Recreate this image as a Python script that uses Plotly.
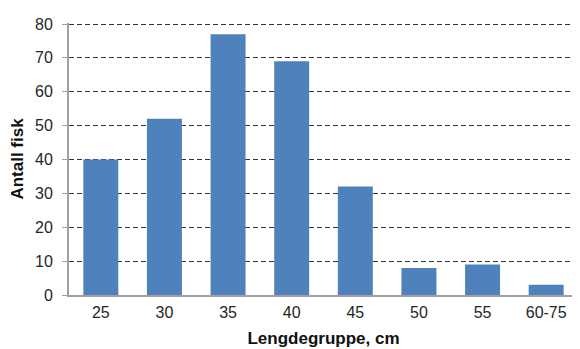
import plotly.graph_objects as go

categories = ["25", "30", "35", "40", "45", "50", "55", "60-75"]
values = [40, 52, 77, 69, 32, 8, 9, 3]
y_ticks = [0, 10, 20, 30, 40, 50, 60, 70, 80]

fig = go.Figure()
fig.add_trace(go.Bar(
    x=categories, y=values,
    marker=dict(color="#4F81BD", line=dict(width=0)),
    width=0.55,
))

font = "Liberation Sans, Arial, sans-serif"
fig.update_layout(
    width=580, height=349,
    margin=dict(l=61, r=10, t=15, b=62, autoexpand=False),
    paper_bgcolor="white", plot_bgcolor="white",
    showlegend=False,
    font=dict(family=font, size=16, color="#262626"),
    xaxis=dict(
        type="category", automargin=False,
        showline=True, linecolor="#A0A0A0", linewidth=2,
        ticks="", showgrid=False, ticklabelstandoff=2,
        tickfont=dict(size=16, color="#262626"),
        title=dict(text="<b>Lengdegruppe, cm</b>", font=dict(size=17, color="#111111"), standoff=12),
    ),
    yaxis=dict(
        range=[0, 80.3], tickvals=y_ticks, automargin=False,
        showline=True, linecolor="#A0A0A0", linewidth=2,
        ticks="outside", ticklen=5, tickcolor="#A0A0A0", tickwidth=1,
        ticklabelstandoff=6,
        showgrid=True, gridcolor="#333333", gridwidth=1, griddash="5px,3px",
        zeroline=False,
        tickfont=dict(size=16, color="#262626"),
        title=dict(text="<b>Antall fisk</b>", font=dict(size=17, color="#111111"), standoff=12),
    ),
)

fig.write_html("out.html")
